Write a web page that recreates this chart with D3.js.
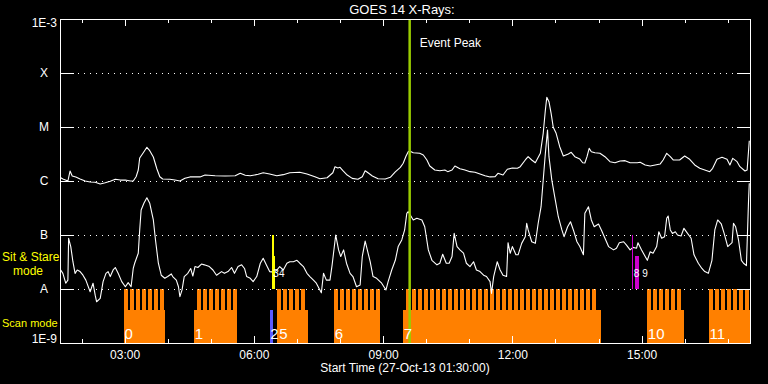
<!DOCTYPE html>
<html>
<head>
<meta charset="utf-8">
<script src="https://cdn.jsdelivr.net/npm/d3@7"></script>
<style>
  body { margin: 0; background: #000; }
  svg text { font-family: "Liberation Sans", Arial, sans-serif; }
</style>
</head>
<body>
<svg id="chart" width="768" height="384"></svg>
<script>
// ---- data ----
const timeStart = '01:30';
const timeEnd = '17:31';
const fluxTicks = [1e-3, 1e-4, 1e-5, 1e-6, 1e-7, 1e-8, 1e-9];
const fluxLabels = ['1E-3', 'X', 'M', 'C', 'B', 'A', '1E-9'];
const gridFlux = [1e-4, 1e-5, 1e-6, 1e-7, 1e-8];
const eventPeak = '09:37';

// scan mode observations: block span, first raster start, number of rasters
const scanObs = [
  { id: '0', start: '02:59', end: '03:56', first: '02:59', n: 7 },
  { id: '1', start: '04:37', end: '05:36', first: '04:41', n: 7 },
  { id: '2', start: '06:22', end: '06:26', first: null, n: 0 },
  { id: '5', start: '06:32', end: '07:15', first: '06:32', n: 5 },
  { id: '6', start: '07:52', end: '08:56', first: '07:52', n: 8 },
  { id: '7', start: '09:28', end: '14:04', first: '09:32', n: 32 },
  { id: '10', start: '15:08', end: '15:59', first: '15:08', n: 6 },
  { id: '11', start: '16:34', end: '17:40', first: '16:34', n: 7 }
];
const rasterCadence = 8.36;   // minutes
const rasterExposure = 5.57;  // minutes

// sit & stare observations
const stareObs = [
  { id: '3', start: '06:25', end: '06:28' },
  { id: '4', start: '06:25', end: '06:29' },
  { id: '8', start: '14:47', end: '14:48' },
  { id: '9', start: '14:51', end: '14:56' }
];

// GOES 14 XRS 1-8 A
const xrsLong = [
  ['01:30',1.17e-6],['01:34',1.09e-6],['01:41',1.0e-6],['01:44',1.53e-6],['01:47',1.24e-6],['01:52',1.19e-6],
  ['01:58',1.09e-6],['02:05',1.0e-6],['02:12',0.96e-6],['02:19',0.95e-6],['02:26',0.88e-6],['02:33',0.93e-6],
  ['02:40',0.99e-6],['02:47',1.08e-6],['02:54',1.04e-6],['03:01',1.04e-6],['03:08',1.0e-6],['03:12',1.0e-6],
  ['03:16',1.20e-6],['03:19',1.60e-6],['03:21',2.67e-6],['03:26',3.34e-6],['03:31',4.21e-6],['03:35',3.64e-6],
  ['03:40',2.78e-6],['03:45',1.67e-6],['03:49',1.20e-6],['03:53',1.09e-6],['04:03',1.08e-6],['04:10',1.04e-6],
  ['04:17',1.0e-6],['04:24',1.12e-6],['04:31',1.19e-6],['04:45',1.19e-6],['04:52',1.29e-6],['05:06',1.25e-6],
  ['05:20',1.24e-6],['05:34',1.25e-6],['05:41',1.39e-6],['05:48',1.28e-6],['05:55',1.25e-6],['06:06',1.33e-6],
  ['06:13',1.42e-6],['06:22',1.35e-6],['06:32',1.25e-6],['06:41',1.31e-6],['06:50',1.42e-6],['07:04',1.45e-6],
  ['07:14',1.35e-6],['07:25',1.20e-6],['07:32',1.10e-6],['07:42',1.15e-6],['07:50',1.42e-6],['07:53',1.84e-6],
  ['07:57',1.74e-6],['08:00',1.79e-6],['08:04',1.55e-6],['08:10',1.29e-6],['08:17',1.12e-6],['08:25',1.08e-6],
  ['08:31',1.20e-6],['08:35',1.55e-6],['08:39',1.42e-6],['08:45',1.24e-6],['08:53',1.10e-6],['09:03',1.09e-6],
  ['09:10',1.17e-6],['09:17',1.47e-6],['09:24',1.79e-6],['09:28',2.13e-6],['09:32',2.90e-6],['09:35',3.49e-6],
  ['09:37',3.59e-6],['09:42',3.34e-6],['09:51',3.26e-6],['09:56',3.03e-6],['10:01',2.45e-6],['10:05',1.90e-6],
  ['10:12',1.60e-6],['10:19',1.55e-6],['10:26',1.60e-6],['10:30',1.49e-6],['10:36',1.60e-6],['10:40',1.90e-6],
  ['10:47',1.69e-6],['10:54',1.60e-6],['11:01',1.49e-6],['11:08',1.45e-6],['11:15',1.35e-6],['11:22',1.25e-6],
  ['11:29',1.19e-6],['11:36',1.20e-6],['11:40',1.39e-6],['11:47',1.29e-6],['11:53',1.65e-6],['12:00',1.74e-6],
  ['12:07',1.72e-6],['12:11',1.84e-6],['12:18',2.45e-6],['12:22',2.82e-6],['12:27',2.45e-6],['12:32',2.18e-6],
  ['12:39',3.26e-6],['12:43',7.64e-6],['12:46',2.06e-5],['12:48',3.55e-5],['12:51',2.94e-5],['12:54',1.79e-5],
  ['12:57',9.87e-6],['13:01',7.64e-6],['13:06',4.32e-6],['13:11',2.90e-6],['13:18',3.16e-6],['13:22',3.40e-6],
  ['13:27',2.82e-6],['13:34',2.55e-6],['13:38',2.18e-6],['13:41',2.15e-6],['13:44',2.82e-6],['13:47',4.03e-6],
  ['13:50',3.49e-6],['13:55',3.34e-6],['14:02',3.26e-6],['14:09',2.82e-6],['14:16',2.28e-6],['14:23',2.18e-6],
  ['14:30',2.35e-6],['14:37',2.38e-6],['14:44',2.18e-6],['14:54',2.18e-6],['14:58',2.22e-6],['15:05',1.98e-6],
  ['15:12',1.90e-6],['15:19',1.98e-6],['15:26',2.07e-6],['15:30',2.45e-6],['15:35',3.26e-6],['15:40',2.82e-6],
  ['15:44',2.45e-6],['15:53',2.45e-6],['16:00',2.90e-6],['16:07',2.52e-6],['16:14',1.98e-6],['16:21',1.72e-6],
  ['16:28',1.60e-6],['16:35',1.49e-6],['16:39',1.72e-6],['16:45',2.52e-6],['16:52',2.75e-6],['16:59',2.52e-6],
  ['17:03',1.98e-6],['17:07',2.63e-6],['17:13',2.28e-6],['17:17',1.84e-6],['17:24',1.53e-6],['17:27',1.60e-6],
  ['17:30',5.57e-6]
];

// GOES 14 XRS 0.5-4 A
const xrsShort = [
  ['01:31',2.25e-8],['01:34',1.95e-8],['01:38',1.28e-8],['01:41',1.46e-8],['01:42',8.7e-8],['01:45',6.1e-8],
  ['01:48',3.2e-8],['01:51',1.95e-8],['01:54',2.25e-8],['01:58',2.1e-8],['02:02',1.8e-8],['02:06',1.46e-8],
  ['02:12',8.9e-9],['02:16',1.28e-8],['02:19',7.7e-9],['02:21',5.8e-9],['02:26',6.7e-9],['02:30',1.37e-8],
  ['02:34',1.95e-8],['02:37',2.1e-8],['02:40',1.7e-8],['02:44',2.25e-8],['02:47',2.5e-8],['02:51',1.95e-8],
  ['02:56',1.37e-8],['03:01',1.1e-8],['03:05',1.31e-8],['03:09',1.1e-8],['03:12',2.4e-8],['03:14',3.0e-8],
  ['03:19',4.6e-8],['03:21',1.24e-7],['03:23',2.9e-7],['03:27',3.9e-7],['03:31',4.9e-7],['03:35',3.86e-7],
  ['03:40',1.9e-7],['03:43',8.1e-8],['03:47',3.0e-8],['03:51',1.8e-8],['03:56',1.58e-8],['04:00',1.7e-8],
  ['04:05',1.9e-8],['04:07',1.7e-8],['04:12',1.46e-8],['04:15',1.1e-8],['04:17',7.2e-9],['04:20',9.6e-9],
  ['04:23',1.7e-8],['04:28',1.95e-8],['04:32',2.4e-8],['04:35',1.74e-8],['04:38',2.6e-8],['04:42',2.5e-8],
  ['04:47',2.9e-8],['04:51',2.8e-8],['04:58',2.6e-8],['05:03',2.25e-8],['05:08',1.8e-8],['05:15',2.1e-8],
  ['05:19',1.95e-8],['05:24',2.1e-8],['05:29',2.5e-8],['05:33',1.95e-8],['05:38',2.6e-8],['05:43',2.8e-8],
  ['05:47',2.4e-8],['05:50',1.7e-8],['05:55',1.58e-8],['05:59',1.37e-8],['06:04',1.7e-8],['06:09',3.0e-8],
  ['06:13',3.7e-8],['06:18',2.7e-8],['06:22',2.1e-8],['06:28',2.05e-8],['06:32',2.25e-8],['06:36',2.6e-8],
  ['06:41',2.25e-8],['06:46',3.0e-8],['06:50',3.2e-8],['06:55',3.2e-8],['07:00',3.4e-8],['07:04',3.0e-8],
  ['07:09',2.6e-8],['07:14',1.95e-8],['07:18',1.7e-8],['07:23',1.46e-8],['07:27',1.28e-8],['07:34',8.5e-9],
  ['07:37',1.95e-8],['07:41',1.46e-8],['07:46',1.46e-8],['07:49',2.8e-8],['07:54',1.0e-7],['07:58',5.3e-8],
  ['08:01',4.0e-8],['08:05',5.3e-8],['08:09',3.0e-8],['08:14',1.95e-8],['08:18',1.7e-8],['08:23',1.1e-8],
  ['08:28',1.19e-8],['08:31',4.0e-8],['08:35',7.7e-8],['08:38',5.3e-8],['08:42',3.2e-8],['08:46',1.7e-8],
  ['08:51',1.58e-8],['08:58',1.28e-8],['09:04',9.6e-9],['09:07',1.37e-8],['09:12',2.25e-8],['09:17',3.4e-8],
  ['09:21',6.1e-8],['09:26',8.1e-8],['09:30',1.24e-7],['09:33',2.52e-7],['09:35',2.7e-7],['09:37',2.45e-7],
  ['09:42',1.9e-7],['09:47',2.04e-7],['09:54',1.9e-7],['09:58',1.42e-7],['10:03',5.3e-8],['10:08',3.4e-8],
  ['10:15',2.8e-8],['10:19',3.0e-8],['10:23',4.4e-8],['10:28',3.0e-8],['10:32',3.0e-8],['10:36',4.0e-8],
  ['10:39',1.07e-7],['10:43',6.1e-8],['10:47',5.3e-8],['10:52',4.6e-8],['10:56',3.0e-8],['11:01',2.6e-8],
  ['11:06',3.2e-8],['11:10',2.25e-8],['11:15',2.1e-8],['11:20',1.8e-8],['11:24',1.7e-8],['11:29',1.37e-8],
  ['11:31',8.3e-9],['11:34',1.7e-8],['11:39',3.2e-8],['11:43',2.25e-8],['11:47',1.8e-8],['11:52',1.7e-8],
  ['11:54',7.2e-8],['11:57',4.6e-8],['12:00',6.1e-8],['12:05',4.3e-8],['12:08',4.3e-8],['12:13',7.0e-8],
  ['12:18',9.3e-8],['12:20',1.65e-7],['12:22',1.24e-7],['12:27',7.5e-8],['12:32',7.0e-8],['12:36',1.65e-7],
  ['12:40',3.34e-7],['12:43',1.04e-6],['12:46',3.26e-6],['12:49',8.8e-6],['12:51',2.82e-6],['12:55',1.04e-6],
  ['12:59',5.12e-7],['13:04',2.18e-7],['13:09',1.24e-7],['13:12',9.3e-8],['13:17',1.42e-7],['13:21',1.76e-7],
  ['13:25',1.24e-7],['13:30',7.5e-8],['13:34',6.1e-8],['13:39',4.3e-8],['13:41',2.52e-7],['13:46',3.34e-7],
  ['13:50',1.9e-7],['13:54',1.42e-7],['14:00',1.6e-7],['14:04',1.24e-7],['14:09',8.7e-8],['14:14',6.1e-8],
  ['14:21',5.3e-8],['14:25',5.7e-8],['14:29',7.2e-8],['14:35',7.5e-8],['14:39',6.5e-8],['14:44',5.3e-8],
  ['14:48',5.9e-8],['14:53',5.7e-8],['14:55',7.2e-8],['15:00',5.3e-8],['15:05',4.0e-8],['15:08',3.4e-8],
  ['15:12',4.9e-8],['15:16',4.6e-8],['15:21',6.1e-8],['15:24',1.15e-7],['15:28',8.7e-8],['15:32',9.3e-8],
  ['15:35',2.04e-7],['15:37',2.25e-7],['15:40',1.24e-7],['15:43',1.07e-7],['15:47',1.15e-7],['15:50',1.0e-7],
  ['15:55',9.6e-8],['15:59',1.33e-7],['16:04',1.07e-7],['16:09',8.7e-8],['16:13',4.3e-8],['16:19',3.0e-8],
  ['16:24',2.4e-8],['16:28',2.1e-8],['16:33',1.95e-8],['16:38',3.4e-8],['16:42',1.24e-7],['16:46',1.9e-7],
  ['16:51',1.6e-7],['16:55',1.07e-7],['17:00',6.1e-8],['17:06',7.2e-8],['17:08',1.65e-7],['17:11',1.42e-7],
  ['17:15',8.1e-8],['17:19',3.4e-8],['17:22',3.0e-8],['17:26',2.7e-8],['17:29',4.45e-7],['17:30',9.1e-7]
];

// ---- drawing ----
const width = 768, height = 384;
const margin = { top: 19, right: 18, bottom: 41, left: 60 };
const parseTime = d3.utcParse('%H:%M');
const svg = d3.select('#chart');
svg.append('rect').attr('width', width).attr('height', height).attr('fill', '#000');

const x = d3.scaleUtc()
  .domain([parseTime(timeStart), parseTime(timeEnd)])
  .range([margin.left, width - margin.right]);
const y = d3.scaleLog()
  .domain([1e-9, 1e-3])
  .range([height - margin.bottom, margin.top]);

const plotW = width - margin.left - margin.right;
const plotH = height - margin.top - margin.bottom;
const minutes = (t, m) => new Date(t.getTime() + m * 60000);

svg.append('clipPath').attr('id', 'plotclip')
  .append('rect').attr('x', margin.left).attr('y', margin.top).attr('width', plotW).attr('height', plotH);

const orange = '#ff8000';
const scanColour = { '2': '#5a5aff' };
const stareColour = { '3': '#ffff00', '4': '#ffff00', '8': '#cc00cc', '9': '#cc00cc' };
const stareTop = { '3': 1e-7, '4': 4e-8, '8': 1e-7, '9': 4e-8 };
const scanTop = 1e-8, scanBase = 4e-9;

const plot = svg.append('g').attr('clip-path', 'url(#plotclip)');

// scan mode blocks
const scans = plot.append('g').attr('shape-rendering', 'crispEdges');
scans.selectAll('rect.base')
  .data(scanObs)
  .join('rect')
  .attr('class', 'base')
  .attr('x', d => x(parseTime(d.start)))
  .attr('y', y(scanBase))
  .attr('width', d => Math.max(1, x(parseTime(d.end)) - x(parseTime(d.start))))
  .attr('height', y(1e-9) - y(scanBase))
  .attr('fill', d => scanColour[d.id] || orange);

const rasters = scanObs.flatMap(d => d.first ? d3.range(d.n).map(i => {
  const s = minutes(parseTime(d.first), i * rasterCadence);
  return { id: d.id, s, e: minutes(s, rasterExposure) };
}) : []);
scans.selectAll('rect.raster')
  .data(rasters)
  .join('rect')
  .attr('class', 'raster')
  .attr('x', d => x(d.s))
  .attr('y', y(scanTop))
  .attr('width', d => x(d.e) - x(d.s))
  .attr('height', y(scanBase) - y(scanTop) + 1)
  .attr('fill', d => scanColour[d.id] || orange);

// dotted grid
plot.append('g')
  .attr('shape-rendering', 'crispEdges')
  .selectAll('line')
  .data(gridFlux)
  .join('line')
  .attr('x1', margin.left).attr('x2', width - margin.right)
  .attr('y1', d => Math.round(y(d)) + 0.5).attr('y2', d => Math.round(y(d)) + 0.5)
  .attr('stroke', '#fff')
  .attr('stroke-dasharray', '1,5');

// frame
svg.append('rect')
  .attr('x', margin.left + 0.5).attr('y', margin.top + 0.5)
  .attr('width', plotW).attr('height', plotH)
  .attr('fill', 'none').attr('stroke', '#fff')
  .attr('shape-rendering', 'crispEdges');

// axes (ticks only)
const styleAxis = g => {
  g.attr('color', '#fff').attr('shape-rendering', 'crispEdges');
  g.select('.domain').remove();
};
svg.append('g').attr('transform', `translate(0,${height - margin.bottom})`)
  .call(d3.axisBottom(x).ticks(d3.utcHour.every(1)).tickSize(-4).tickFormat(''))
  .call(styleAxis);
svg.append('g').attr('transform', `translate(0,${margin.top})`)
  .call(d3.axisTop(x).ticks(d3.utcHour.every(1)).tickSize(-4).tickFormat(''))
  .call(styleAxis);
svg.append('g').attr('transform', `translate(0,${margin.top})`)
  .call(d3.axisTop(x).ticks(d3.utcHour.every(3)).tickSize(-7).tickFormat(''))
  .call(styleAxis);
const xb = svg.append('g').attr('transform', `translate(0,${height - margin.bottom})`)
  .call(d3.axisBottom(x).ticks(d3.utcHour.every(3)).tickSize(-7).tickPadding(7.5)
    .tickFormat(d3.utcFormat('%H:%M')))
  .call(styleAxis);
xb.selectAll('text').attr('font-size', 12).attr('font-family', '"Liberation Sans", Arial, sans-serif');

svg.append('g').attr('transform', `translate(${margin.left},0)`)
  .call(d3.axisLeft(y).tickValues(fluxTicks).tickSize(-14).tickFormat(''))
  .call(styleAxis)
  .selectAll('line').attr('stroke-width', 1.5);
svg.append('g').attr('transform', `translate(${width - margin.right},0)`)
  .call(d3.axisRight(y).tickValues(fluxTicks).tickSize(-13).tickFormat(''))
  .call(styleAxis)
  .selectAll('line').attr('stroke-width', 1.5);

svg.append('g').selectAll('text')
  .data(fluxTicks)
  .join('text')
  .attr('x', (d, i) => fluxLabels[i].startsWith('1E') ? 57 : 44)
  .attr('y', d => Math.min(Math.max(y(d) + 4, margin.top + 8), height - margin.bottom))
  .attr('text-anchor', (d, i) => fluxLabels[i].startsWith('1E') ? 'end' : 'middle')
  .attr('fill', '#fff').attr('font-size', 12)
  .text((d, i) => fluxLabels[i]);

// flux curves
const line = d3.line()
  .x(d => x(parseTime(d[0])))
  .y(d => y(d[1]));
[xrsLong, xrsShort].forEach(series => {
  plot.append('path')
    .datum(series)
    .attr('fill', 'none')
    .attr('stroke', '#fff')
    .attr('stroke-width', 1.1)
    .attr('stroke-linejoin', 'round')
    .attr('d', line);
});

// sit & stare marks
plot.append('g').attr('shape-rendering', 'crispEdges')
  .selectAll('rect')
  .data(stareObs)
  .join('rect')
  .attr('x', d => x(parseTime(d.start)))
  .attr('y', d => y(stareTop[d.id]))
  .attr('width', d => Math.max(1, x(parseTime(d.end)) - x(parseTime(d.start))))
  .attr('height', d => y(scanTop) - y(stareTop[d.id]))
  .attr('fill', d => stareColour[d.id]);

// event peak
const xp = x(parseTime(eventPeak));
plot.append('line')
  .attr('x1', xp).attr('x2', xp)
  .attr('y1', margin.top).attr('y2', height - margin.bottom)
  .attr('stroke', '#99cc00').attr('stroke-width', 2.5);
svg.append('text')
  .attr('x', xp + 10).attr('y', 47)
  .attr('fill', '#fff').attr('font-size', 12)
  .text('Event Peak');

// observation numbers
svg.append('g').selectAll('text')
  .data(scanObs)
  .join('text')
  .attr('x', (d, i) => x(parseTime(d.start)) + (d.id === '5' ? 2.5 : 0.5))
  .attr('y', 339)
  .attr('fill', '#fff').attr('font-size', 15)
  .text(d => d.id);
svg.append('g').selectAll('text')
  .data(stareObs)
  .join('text')
  .attr('x', (d, i) => x(parseTime(d.start)) + 1.5 + (i % 2) * 5.6)
  .attr('y', 277)
  .attr('fill', '#fff')
  .attr('font-size', 10)
  .text(d => d.id);

// mode labels
svg.append('text').attr('x', 2).attr('y', 261).attr('fill', '#ffff00').attr('font-size', 12).text('Sit & Stare');
svg.append('text').attr('x', 13).attr('y', 275).attr('fill', '#ffff00').attr('font-size', 12).text('mode');
svg.append('text').attr('x', 2).attr('y', 327).attr('fill', '#ffff00').attr('font-size', 11).text('Scan mode');

// titles
svg.append('text')
  .attr('x', margin.left + plotW / 2 - 3).attr('y', 14)
  .attr('text-anchor', 'middle')
  .attr('fill', '#fff').attr('font-size', 13)
  .text('GOES 14 X-Rays:');
svg.append('text')
  .attr('x', margin.left + plotW / 2).attr('y', 372)
  .attr('text-anchor', 'middle')
  .attr('fill', '#fff').attr('font-size', 12)
  .text('Start Time (27-Oct-13 01:30:00)');
</script>
</body>
</html>
